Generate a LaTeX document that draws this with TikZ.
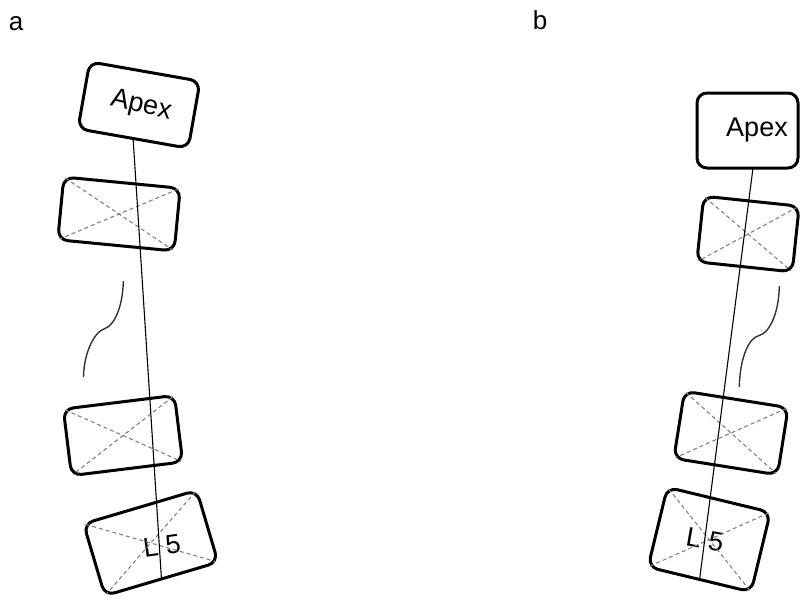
\documentclass[tikz,border=0pt]{standalone}
\usepackage{fontspec}
\setmainfont{Liberation Sans}
\usetikzlibrary{calc}
\begin{document}
\begin{tikzpicture}[x=1pt,y=-1pt,
  vbody/.style={draw, line width=3pt, rounded corners=10pt, inner sep=0pt, outer sep=0pt},
  diag/.style={draw=black!50, line width=1.1pt, dash pattern=on 4pt off 3pt,
               shorten <=2pt, shorten >=2pt},
  axisline/.style={draw=black, line width=1.1pt},
  curveline/.style={draw=black!80, line width=1.4pt},
  lbl/.style={font=\fontsize{27}{30}\selectfont, inner sep=0pt},
  panel/.style={font=\fontsize{26}{30}\selectfont, inner sep=0pt}]
\useasboundingbox (0,0) rectangle (800,598);

% panel labels
\node[panel] (pa) at (16,24) {a};
\node[panel] (pb) at (540,20) {b};

% ---- panel a ----
\node[vbody, minimum width=112pt, minimum height=68pt, rotate=-10] (apexA) at (139,105) {};
\node[lbl, rotate=-13] (tApexA) at (141,106) {Apex};
\node[vbody, minimum width=117pt, minimum height=63pt, rotate=-5.5] (vA2) at (119,214) {};
\node[vbody, minimum width=112pt, minimum height=67pt, rotate=7] (vA3) at (123,435.5) {};
\node[vbody, minimum width=118pt, minimum height=75pt, rotate=16.5] (vA5) at (150.8,543) {};
\node[lbl, rotate=8] (tA5) at (162,546) {L 5};

\foreach \v in {vA2,vA3,vA5} {
  \draw[diag] (\v.north west) -- (\v.south east);
  \draw[diag] (\v.north east) -- (\v.south west);
}
\draw[axisline] (apexA.south) -- (vA5.south);
\draw[curveline] (123.3,281) .. controls (123,303) and (116,325) .. (104,329)
                 .. controls (96,331) and (84,350) .. (83.5,377);

% ---- panel b ----
\node[vbody, minimum width=101pt, minimum height=75pt] (apexB) at (747.5,130.5) {};
\node[lbl] (tApexB) at (757,130) {Apex};
\node[vbody, minimum width=96pt, minimum height=66pt, rotate=-6] (vB2) at (748,234) {};
\node[vbody, minimum width=105pt, minimum height=68pt, rotate=-9] (vB3) at (731,433) {};
\node[vbody, minimum width=106pt, minimum height=82pt, rotate=-13.6] (vB5) at (709.2,539.6) {};
\node[lbl, rotate=-10] (tB5) at (705,540) {L 5};

\foreach \v in {vB2,vB3,vB5} {
  \draw[diag] (\v.north west) -- (\v.south east);
  \draw[diag] (\v.north east) -- (\v.south west);
}
\draw[axisline] ([xshift=5.5pt]apexB.south) -- (vB5.south);
\draw[curveline] (779.3,286) .. controls (779,310) and (771,333) .. (758,336)
                 .. controls (750,338) and (740,355) .. (739.3,387);
\end{tikzpicture}
\end{document}
